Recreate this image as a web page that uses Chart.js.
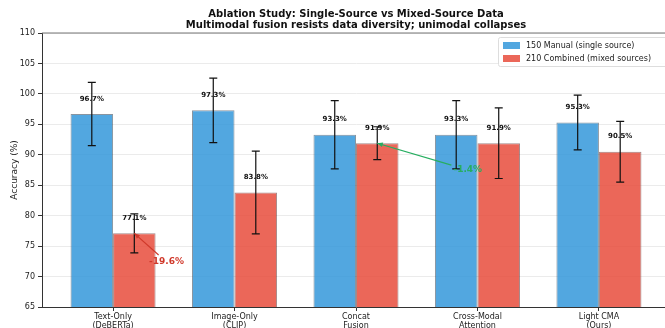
<!DOCTYPE html>
<html>
<head>
<meta charset="utf-8">
<script src="https://cdn.jsdelivr.net/npm/chart.js@4/dist/chart.umd.min.js"></script>
<style>
  html, body { margin: 0; padding: 0; background: #fff; overflow: hidden; }
  #wrap { width: 670px; height: 328px; }
</style>
</head>
<body>
<div id="wrap"><canvas id="grafico" width="670" height="328"></canvas></div>
<script>
// ===============================
// DADOS
// ===============================
const categorias = [
    ["Text-Only", "(DeBERTa)"],
    ["Image-Only", "(CLIP)"],
    ["Concat", "Fusion"],
    ["Cross-Modal", "Attention"],
    ["Light CMA", "(Ours)"]
];
const manual150 = [96.7, 97.3, 93.3, 93.3, 95.3];
const manualErro = [5.2, 5.3, 5.6, 5.6, 4.5];
const combinado210 = [77.1, 83.8, 91.9, 91.9, 90.5];
const combinadoErro = [3.2, 6.8, 2.7, 5.8, 5.0];
const ticksY = [65, 70, 75, 80, 85, 90, 95, 100, 105, 110];

const AZUL = "rgba(52,152,219,0.85)";
const VERMELHO = "rgba(231,76,60,0.85)";
const FONTE = "'DejaVu Sans', sans-serif";

// ===============================
// PLUGINS
// ===============================
const barrasErro = {
    id: "barrasErro",
    afterDatasetsDraw(chart) {
        const ctx = chart.ctx;
        const y = chart.scales.y;
        const erros = [manualErro, combinadoErro];
        ctx.save();
        ctx.strokeStyle = "#111";
        ctx.lineWidth = 1.2;
        chart.data.datasets.forEach((ds, d) => {
            chart.getDatasetMeta(d).data.forEach((bar, i) => {
                const v = ds.data[i].y;
                const top = y.getPixelForValue(v + erros[d][i]);
                const bot = y.getPixelForValue(v - erros[d][i]);
                ctx.beginPath();
                ctx.moveTo(bar.x, top); ctx.lineTo(bar.x, bot);
                ctx.moveTo(bar.x - 4, top); ctx.lineTo(bar.x + 4, top);
                ctx.moveTo(bar.x - 4, bot); ctx.lineTo(bar.x + 4, bot);
                ctx.stroke();
            });
        });
        // rótulos de valor
        ctx.fillStyle = "#111";
        ctx.font = "bold 7px " + FONTE;
        ctx.textAlign = "center";
        ctx.textBaseline = "middle";
        chart.data.datasets.forEach((ds, d) => {
            chart.getDatasetMeta(d).data.forEach((bar, i) => {
                const v = ds.data[i].y;
                ctx.fillText(v.toFixed(1) + "%", bar.x, y.getPixelForValue(v + 2.5));
            });
        });
        ctx.restore();
    }
};

function seta(ctx, x0, y0, x1, y1, cor) {
    ctx.strokeStyle = cor;
    ctx.fillStyle = cor;
    ctx.lineWidth = 1.2;
    ctx.beginPath(); ctx.moveTo(x0, y0); ctx.lineTo(x1, y1); ctx.stroke();
    const a = Math.atan2(y1 - y0, x1 - x0);
    ctx.beginPath();
    ctx.moveTo(x1, y1);
    ctx.lineTo(x1 - 6 * Math.cos(a - 0.4), y1 - 6 * Math.sin(a - 0.4));
    ctx.lineTo(x1 - 6 * Math.cos(a + 0.4), y1 - 6 * Math.sin(a + 0.4));
    ctx.closePath(); ctx.fill();
}

const anotacoes = {
    id: "anotacoes",
    afterDatasetsDraw(chart) {
        const ctx = chart.ctx;
        const xs = chart.scales.x, ys = chart.scales.y;
        const vermelhas = chart.getDatasetMeta(1).data;
        const itens = [
            { texto: "-19.6%", cor: "#d0392b", tx: 0.44, ty: 72.4, alvo: 0 },
            { texto: "-1.4%", cor: "#27ae60", tx: 2.92, ty: 87.5, alvo: 2 }
        ];
        ctx.save();
        ctx.font = "bold 9px " + FONTE;
        ctx.textAlign = "center";
        ctx.textBaseline = "middle";
        itens.forEach(it => {
            const cx = xs.getPixelForValue(it.tx), cy = ys.getPixelForValue(it.ty);
            const hx = vermelhas[it.alvo].x, hy = ys.getPixelForValue(combinado210[it.alvo]);
            const w = ctx.measureText(it.texto).width / 2 + 2, h = 7;
            const dx = hx - cx, dy = hy - cy;
            const t = Math.min(Math.abs(w / dx), Math.abs(h / dy));
            seta(ctx, cx + dx * t, cy + dy * t, hx, hy, it.cor);
            ctx.fillStyle = it.cor;
            ctx.fillText(it.texto, cx, cy);
        });
        ctx.restore();
    }
};

const molduraTitulo = {
    id: "molduraTitulo",
    afterDraw(chart) {
        const ctx = chart.ctx;
        const a = chart.chartArea;
        ctx.save();
        // eixo superior
        ctx.strokeStyle = "#777";
        ctx.lineWidth = 1.2;
        ctx.beginPath(); ctx.moveTo(a.left, a.top); ctx.lineTo(a.right, a.top); ctx.stroke();
        // título
        ctx.fillStyle = "#111";
        ctx.font = "bold 10px " + FONTE;
        ctx.textAlign = "center";
        ctx.textBaseline = "middle";
        const cx = (a.left + a.right) / 2;
        ctx.fillText("Ablation Study: Single-Source vs Mixed-Source Data", cx, 14);
        ctx.fillText("Multimodal fusion resists data diversity; unimodal collapses", cx, 25);
        // legenda
        const lx = 498, ly = 37;
        ctx.fillStyle = "rgba(255,255,255,0.9)";
        ctx.strokeStyle = "#ddd";
        ctx.lineWidth = 1;
        ctx.beginPath();
        ctx.roundRect(lx + 0.5, ly + 0.5, 180, 29, 2);
        ctx.fill(); ctx.stroke();
        ctx.font = "8px " + FONTE;
        ctx.textAlign = "left";
        chart.data.datasets.forEach((ds, d) => {
            const yy = ly + 8 + d * 13;
            ctx.fillStyle = ds.backgroundColor;
            ctx.fillRect(lx + 5, yy - 3, 17, 7);
            ctx.fillStyle = "#222";
            ctx.fillText(ds.label, lx + 28, yy + 0.5);
        });
        ctx.restore();
    }
};

// ===============================
// GRÁFICO
// ===============================
new Chart(document.getElementById("grafico"), {
    type: "bar",
    data: {
        datasets: [
            {
                label: "150 Manual (single source)",
                data: manual150.map((v, i) => ({ x: i, y: v })),
                backgroundColor: AZUL,
                borderColor: "rgba(40,60,80,0.55)",
                borderWidth: 1
            },
            {
                label: "210 Combined (mixed sources)",
                data: combinado210.map((v, i) => ({ x: i, y: v })),
                backgroundColor: VERMELHO,
                borderColor: "rgba(90,40,40,0.55)",
                borderWidth: 1
            }
        ]
    },
    options: {
        responsive: false,
        animation: false,
        categoryPercentage: 0.7,
        barPercentage: 1.0,
        layout: { padding: { top: 33, left: 0, right: 0, bottom: 0 } },
        plugins: {
            legend: { display: false },
            tooltip: { enabled: false },
            title: { display: false }
        },
        scales: {
            x: {
                type: "linear",
                offset: false,
                min: -0.585,
                max: 4.585,
                afterBuildTicks: s => { s.ticks = categorias.map((c, i) => ({ value: i })); },
                afterFit: s => { s.height = 21; },
                ticks: {
                    callback: v => categorias[v],
                    color: "#222",
                    font: { family: FONTE, size: 8 },
                    padding: 1,
                    maxRotation: 0,
                    autoSkip: false
                },
                grid: { drawOnChartArea: false, offset: false, tickLength: 4, tickColor: "#333" },
                border: { color: "#333", width: 1 }
            },
            y: {
                min: 65,
                max: 110,
                afterBuildTicks: s => { s.ticks = ticksY.map(v => ({ value: v })); },
                afterFit: s => { s.width = 42; },
                ticks: {
                    color: "#222",
                    font: { family: FONTE, size: 8 },
                    padding: 3
                },
                title: {
                    display: true,
                    text: "Accuracy (%)",
                    color: "#222",
                    font: { family: FONTE, size: 9 },
                    padding: { top: 9, bottom: 0 }
                },
                grid: { color: "#ebebeb", lineWidth: 1, tickLength: 4, tickColor: "#333" },
                border: { color: "#333", width: 1 }
            }
        }
    },
    plugins: [barrasErro, anotacoes, molduraTitulo]
});
</script>
</body>
</html>
